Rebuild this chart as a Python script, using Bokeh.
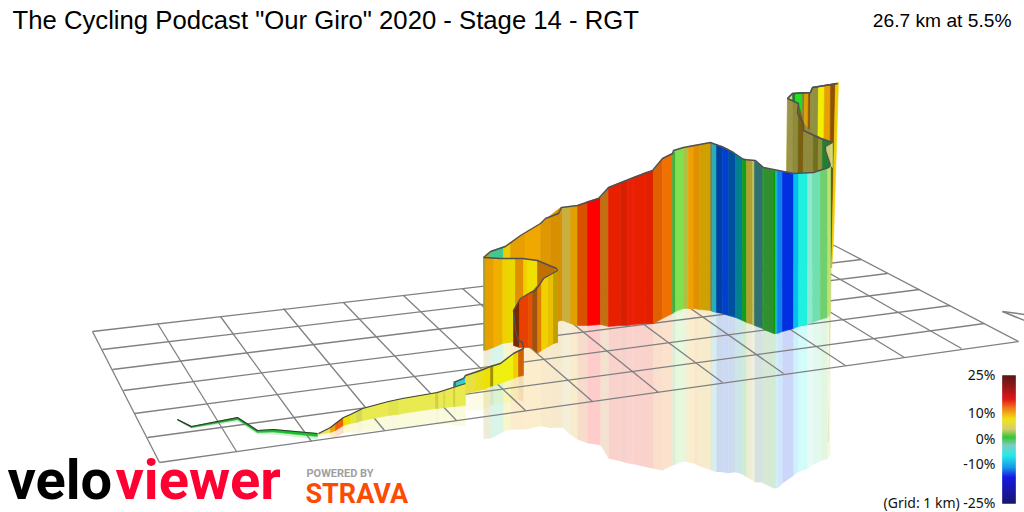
from bokeh.plotting import figure
from bokeh.embed import file_html
from bokeh.resources import INLINE
from bokeh.core.properties import value
import numpy as np

# ---------- ground grid ----------
grid_back_x = [92,157,220,283,343,403,462,520,577,633,687,739,789,834]
grid_back_y = [331,323,316,308,302,295,288,281,275,268,262,256,250,245]
grid_front_x = [159,236,311,384,456,525,592,658,722,783,845,904,961,1018]
grid_front_y = [462,451,441,430,420,410,401,392,382,373,365,357,348,341]
grid_left_x = [92,102,112,123,134,147,159]
grid_left_y = [331,349,369,390,413,437,462]
grid_right_x = [834,861,887,919,950,984,1018]
grid_right_y = [245,259,273,289,305,323,341]
wedge_x0 = [1002,1002]
wedge_y0 = [311,311]
wedge_x1 = [1024,1024]
wedge_y1 = [314,320]

# ---------- green start of the route ----------
start_x = [177,191,237,257,273,317]
start_top = [419,426,417,430,429,433]
start_base = [419.5,427,419,432,431.5,436]
start_col = ["#2a6a2a","#20a030","#20b030","#20c030","#18c028"]

# ---------- low yellow wall ----------
low_x = [318,330,335,343,350,356,362,388,398,402,435,438,443,445,453,455,465]
low_top = [433,427,423,417,414,411,408,401,399,398,392,391,390,389,387,386,383]
low_base = [434,432,430,425,423,422,420,415,414,413,408,408,407,407,406,406,405]
low_col = ["#e8e060","#f0a000","#f06000","#f0e000","#e6e640","#d8d850","#e8ea50","#e2e44c",
           "#e8ea50","#e8ea50","#d0d040","#e8ea50","#d8d850","#e8ea50","#d0d040","#e8ea50"]

# ---------- teal step ----------
teal_x = [453,456,465]
teal_top = [383,381,377]
teal_base = [388,388,386]
teal_col = ["#308080","#30d0d0"]

# ---------- yellow wall in front of the climb ----------
ramp_x = [465,475,483,490,493,500,513,518,523]
ramp_top = [375,371,368,366,365,362,354,351,348]
ramp_base = [393,391,389,386,385,383,378,376,375]
ramp_col = ["#e8e040","#e8e020","#f0e000","#a09000","#f0f010","#f0f010","#f0d000","#d06000"]

# ---------- turn, red and brown ----------
turn_x = [513,519,528,532,537,541,548,553,557]
turn_top = [310,300,293,291,285,280,275,272,270]
turn_base = [345,347,347,348,353,350,346,343,342]
turn_col = ["#7a2800","#e84000","#e85000","#a05010","#e08000","#f0d000","#e8c000","#c0a000"]

# ---------- front-left gold wall ----------
gold_x = [483,485,493,502,508,515,523,527,537,555,557]
gold_bx = [485,485,493,502,508,515,523,527,537,555,557]
gold_top = [257,257,258,258,258,258,258,259,260,268,270]
gold_base = [350,350,347,343,342,341,342,345,350,342,342]
gold_col = ["#a8a030","#e8a000","#f0b000","#f0d000","#e8d800","#e09000","#f0d000","#f0e000","#c07000","#c8a000"]

# ---------- main long wall ----------
main_x = [483,490,503,510,525,540,550,560,562,570,577,587,600,608,620,627,633,645,653,662,672,675,
          683,688,693,699,710,712,716,722,728,735,742,746,752,754,762,763,773,775,777,782,793,798,
          807,812,820,827,830]
main_top = [257,251,246,242,232,223,215,207,207,206,205,201,197,187,182,180,177,172,170,158,153,150,
            147,146,145,144,142,143,144,146,149,154,158,159,160,160,166,167,170,170,170,171,173,173,
            172,172,170,168,165]
main_base = [350,347,341,338,333,327,324,320,320,323,325,325,324,326,325,325,324,323,323,318,313,311,
             308,308,308,309,310,311,312,313,315,317,320,322,324,325,328,329,333,333,333,331,328,326,
             324,322,319,317,313]
main_col = ["#a8a030","#40c890","#e8d000","#e8a000","#f0a800","#e09800","#d89000","#d89000","#c8b040",
            "#e0a000","#d85000","#ff0000","#c07010","#e82000","#d82000","#e82008","#e82000","#e02000",
            "#e06000","#f07000","#40b040","#80e050","#b0c040","#f0a000","#e09000","#d0a000","#808040",
            "#20b0c0","#0040a0","#0040d0","#0050a0","#008090","#10a010","#b0a030","#c0c050","#307070",
            "#209030","#309030","#00a000","#20b0d0","#1080f0","#0030e0","#00c0f0","#20f0e0","#90e8d0",
            "#70e0b0","#70d070","#c0e070"]

# ---------- far tall wall ----------
far_x = [787,792,795,802,804,808,810,812,818,824,830,835,838]
far_bx = [785,790,793,800,802,806,808,810,816,822,829,831,833]
far_top = [98,93,93,92,92,92,92,87,86,85,84,83,82]
far_base = [260,262,262,262,262,263,263,263,264,265,267,267,240]
far_col = ["#d8d870","#208030","#20e020","#808040","#e0a000","#905000","#909040","#909040",
           "#f0f000","#e8a000","#905000","#f0d000"]

# ---------- inner olive face ----------
inner_x = [787,793,798,803,813,818,822,832]
inner_bx = [785,792,797,802,812,817,821,830]
inner_top = [98,101,103,123,134,136,138,142]
inner_base = [262,262,262,262,262,262,262,262]
inner_col = ["#9a9548","#8f8a3c","#7a5f10","#8f8a3c","#707020","#909040","#208030"]

# ---------- pale piece at the top of the curve ----------
pale_x = [825,830,832]
pale_top = [146,143,142]
pale_base = [150,165,167]
pale_col = ["#d0d070","#d8d878"]

# ---------- route outlines ----------
line_main_x = [483,490,505,520,540,545,558,561,577,598,608,633,652,662,672,673,683,710,723,733,743,755,763,783,793,813,828,830]
line_main_y = [257,251,246,235,223,218,213,207,205,198,187,177,170,158,153,150,147,142,147,152,159,160,167,171,173,172,167,165]
line_far_x = [830,825,825,832,820,803,803,797,798,787,792,810,812,837]
line_far_y = [165,150,146,142,138,130,123,113,103,98,93,92,87,83]
line_front_x = [483,500,522,537,556,557,543,535,530,520,513,515,518,522,523,513,500,490,480,465,463,453]
line_front_y = [257,258,258,260,268,270,278,290,292,298,310,330,340,342,348,353,363,366,370,375,378,382]
line_low_x = [318,330,335,343,350,362,388,402,437,465]
line_low_y = [433,427,423,417,414,408,401,398,392,383]

# ---------- colour scale ----------
scale_stops = [375,390,399,408,419,429,437,445,455,467,477,503]
scale_cols = ["#4a0000","#a00000","#e00000","#f07000","#f0e000","#d0c860","#20c020","#70c8b8",
              "#10e8e8","#0090e8","#0000e0","#000060"]
scale_labels = ["25%","10%","0%","-10%","(Grid: 1 km) -25%"]
scale_label_y = [374,412,438,463,502]

title_text = 'The Cycling Podcast "Our Giro" 2020 - Stage 14 - RGT'
stat_text = "26.7 km at 5.5%"

REFLECT = 0.95

p = figure(width=1024, height=512, x_range=(0,1024), y_range=(512,0),
           output_backend="svg", toolbar_location=None,
           x_axis_location=None, y_axis_location=None, min_border=0)
p.grid.visible = False
p.outline_line_color = None
p.background_fill_color = "white"
p.border_fill_color = "white"


def strips(x, bx, top, base, mirrored=False):
    xs, ys = [], []
    for i in range(len(x) - 1):
        if mirrored:
            a = bx[i] + REFLECT * (bx[i] - x[i])
            b = bx[i + 1] + REFLECT * (bx[i + 1] - x[i + 1])
            c = base[i + 1] + REFLECT * (base[i + 1] - top[i + 1])
            d = base[i] + REFLECT * (base[i] - top[i])
            xs.append([bx[i], bx[i + 1], b, a])
            ys.append([base[i], base[i + 1], c, d])
        else:
            xs.append([x[i], x[i + 1], bx[i + 1], bx[i]])
            ys.append([top[i], top[i + 1], base[i + 1], base[i]])
    return xs, ys


def wall(x, top, base, col, bx=None):
    bx = x if bx is None else bx
    xs, ys = strips(x, bx, top, base)
    p.patches(xs, ys, fill_color=col, line_color=col, line_width=0.6)


def reflect(x, top, base, col, bx=None, alpha=0.2):
    bx = x if bx is None else bx
    xs, ys = strips(x, bx, top, base, True)
    p.patches(xs, ys, fill_color=col, fill_alpha=alpha, line_alpha=0)


# reflections first, under the grid
reflect(start_x, start_top, start_base, start_col)
reflect(far_x[-3:], far_top[-3:], far_base[-3:], far_col[-2:], far_bx[-3:])
reflect(main_x, main_top, main_base, main_col)
reflect(ramp_x, ramp_top, ramp_base, ramp_col, alpha=0.12)
reflect(low_x, low_top, low_base, low_col)

# grid
GRID = "#808080"
p.segment(grid_back_x, grid_back_y, grid_front_x, grid_front_y, line_color=GRID, line_width=1.3)
p.segment(grid_left_x, grid_left_y, grid_right_x, grid_right_y, line_color=GRID, line_width=1.3)
p.segment(wedge_x0, wedge_y0, wedge_x1, wedge_y1, line_color=GRID, line_width=1.5)

# walls, from back to front
wall(far_x, far_top, far_base, far_col, far_bx)
p.line(line_far_x[9:], line_far_y[9:], line_color="#505050", line_width=1.3)
wall(inner_x, inner_top, inner_base, inner_col, inner_bx)
wall(pale_x, pale_top, pale_base, pale_col)
p.line(line_far_x, line_far_y, line_color="#505050", line_width=1.4)
wall(main_x, main_top, main_base, main_col)
p.line(line_main_x, line_main_y, line_color="#505050", line_width=1.4)
wall(gold_x, gold_top, gold_base, gold_col, gold_bx)
wall(turn_x, turn_top, turn_base, turn_col)
wall(teal_x, teal_top, teal_base, teal_col)
wall(low_x, low_top, low_base, low_col)
wall(ramp_x, ramp_top, ramp_base, ramp_col)
wall(start_x, start_top, start_base, start_col)
p.line(line_front_x, line_front_y, line_color="#505050", line_width=1.4)
p.line(line_low_x, line_low_y, line_color="#404040", line_width=1.2)
p.line(start_x, start_top, line_color="#28402a", line_width=1.2)

# titles
p.text([12], [19.5], text=[title_text], text_font=value("Liberation Sans"), text_font_size=value("25.7px"),
       text_color="#000000", text_align="left", text_baseline="middle")
p.text([1011], [20], text=[stat_text], text_font=value("Liberation Sans"), text_font_size=value("19.2px"),
       text_color="#000000", text_align="right", text_baseline="middle")

# colour scale
rows = np.arange(375, 503)
rgb = np.array([[int(c[i:i + 2], 16) for i in (1, 3, 5)] for c in scale_cols], dtype=float)
bar = ["#%02x%02x%02x" % tuple(int(round(np.interp(r + .5, scale_stops, rgb[:, k]))) for k in range(3)) for r in rows]
p.quad(left=1002, right=1015, top=rows, bottom=rows + 1, fill_color=bar, line_color=bar, line_width=0.4)
p.text([995] * 5, scale_label_y, text=scale_labels, text_font=value("Noto Sans"), text_font_size=value("14px"),
       text_color="#111111", text_align="right", text_baseline="middle")

# logos
p.text([7], [479], text=["velo"], text_font=value("Roboto"), text_font_style="bold", text_font_size=value("56px"),
       text_color="#000000", text_align="left", text_baseline="middle")
p.text([115], [479], text=["viewer"], text_font=value("Roboto"), text_font_style="bold", text_font_size=value("56px"),
       text_color="#ff0033", text_align="left", text_baseline="middle")
p.text([306], [473], text=["POWERED BY"], text_font=value("Roboto"), text_font_style="bold", text_font_size=value("11px"),
       text_color="#a0a0a0", text_align="left", text_baseline="middle")
p.text([305], [493], text=["STRAVA"], text_font=value("Roboto"), text_font_style="bold", text_font_size=value("27px"),
       text_color="#fc4c02", text_align="left", text_baseline="middle")

open("out.html", "w").write(file_html(p, INLINE))
